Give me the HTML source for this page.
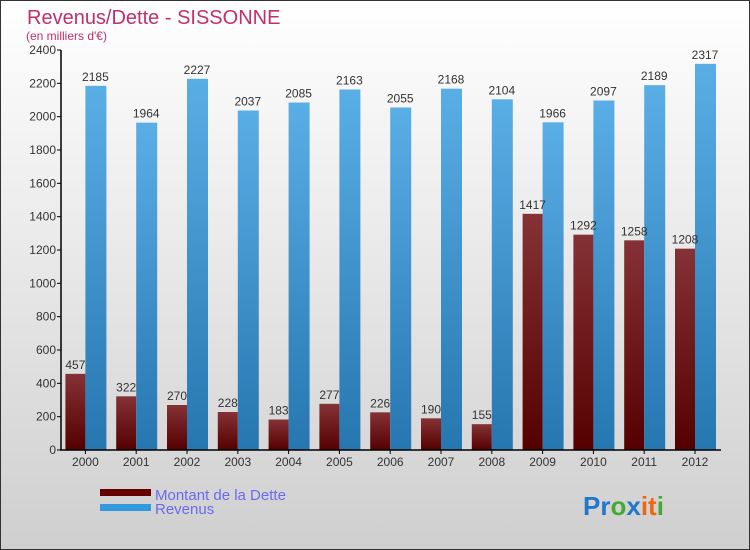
<!DOCTYPE html>
<html><head><meta charset="utf-8"><style>
body{margin:0;}
#wrap{width:748px;height:548px;border:1px solid #333;background:linear-gradient(#ffffff,#cfcfcf);position:relative;font-family:"Liberation Sans",sans-serif;overflow:hidden}
</style></head><body>
<div id="wrap">
<svg width="748" height="548" viewBox="1 1 748 548" xmlns="http://www.w3.org/2000/svg">
<defs>
<linearGradient id="gb" x1="0" y1="0" x2="0" y2="1"><stop offset="0" stop-color="#5aaee6"/><stop offset="1" stop-color="#2676b0"/></linearGradient>
<linearGradient id="gr" x1="0" y1="0" x2="0" y2="1"><stop offset="0" stop-color="#853236"/><stop offset="1" stop-color="#550000"/></linearGradient>
</defs>
<text x="27" y="24" font-size="20" fill="#c0306a">Revenus/Dette - SISSONNE</text>
<text x="26" y="40" font-size="12" fill="#c0306a">(en milliers d'€)</text>
<g id="plot"></g>
<rect x="100" y="489" width="51" height="7" fill="#650000"/>
<text x="155" y="500" font-size="15" fill="#6a6af0">Montant de la Dette</text>
<rect x="100" y="504" width="51" height="7" fill="#3399dd"/>
<text x="155" y="514" font-size="15" fill="#6a6af0">Revenus</text>
<text x="583" y="515" font-size="26" font-weight="bold"><tspan fill="#2277cc">Pr</tspan><tspan fill="#44aa33">o</tspan><tspan fill="#2277cc">x</tspan><tspan fill="#ee6611">it</tspan><tspan fill="#44aa33">i</tspan></text>
</svg>
</div>
<script>
const categories=["2000","2001","2002","2003","2004","2005","2006","2007","2008","2009","2010","2011","2012"];
const dette=[457,322,270,228,183,277,226,190,155,1417,1292,1258,1208];
const revenus=[2185,1964,2227,2037,2085,2163,2055,2168,2104,1966,2097,2189,2317];
const yTicks=[0,200,400,600,800,1000,1200,1400,1600,1800,2000,2200,2400];
const NS="http://www.w3.org/2000/svg";
const g=document.getElementById('plot');
const x0=60,band=50.8,yMax=2400,yTop=50,yBot=450;
const y=v=>yBot-(v/yMax)*(yBot-yTop);
const cx=i=>x0+band*(i+0.5);
function mk(t,a){const e=document.createElementNS(NS,t);for(const k in a)e.setAttribute(k,a[k]);g.appendChild(e);return e;}
yTicks.forEach(v=>{
  const l=mk('line',{x1:57,x2:61,y1:y(v),y2:y(v),stroke:'#000'});
  
  
  const t=mk('text',{x:56,y:y(v)+4,'font-size':12,'text-anchor':'end',fill:'#333'});
  t.textContent=v;
  
  
});
categories.forEach((c,i)=>{
  const c0=cx(i);
  const r=mk('rect',{x:c0-20,y:y(dette[i]),width:20,height:yBot-y(dette[i]),fill:'url(#gr)'});
  
  
  const b=mk('rect',{x:c0,y:y(revenus[i]),width:21,height:yBot-y(revenus[i]),fill:'url(#gb)'});
  
  
  const t1=mk('text',{x:c0-10,y:y(dette[i])-5,'font-size':12,'text-anchor':'middle',fill:'#333'});
  t1.textContent=dette[i];
  
  
  const t2=mk('text',{x:c0+10,y:y(revenus[i])-5,'font-size':12,'text-anchor':'middle',fill:'#333'});
  t2.textContent=revenus[i];
  
  
  const xt=mk('line',{x1:c0,x2:c0,y1:450,y2:454,stroke:'#000'});
  
  
  const xl=mk('text',{x:c0,y:466,'font-size':12,'text-anchor':'middle',fill:'#333'});
  xl.textContent=c;
  
  
});
const ya=mk('line',{x1:61,x2:61,y1:50,y2:450,stroke:'#000','stroke-width':1.5});


const xa=mk('line',{x1:60,x2:721,y1:450,y2:450,stroke:'#000','stroke-width':1.5});


</script>
</body></html>
